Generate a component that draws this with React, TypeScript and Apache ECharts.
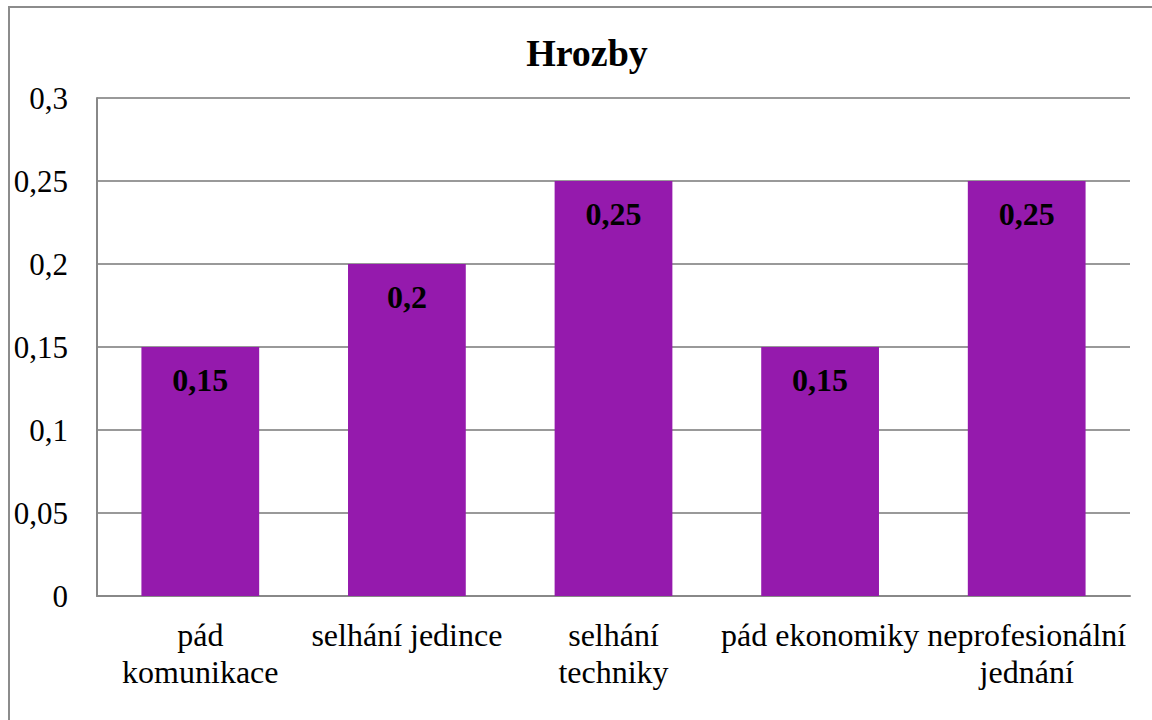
import React, { useEffect, useRef } from "react";
import * as echarts from "echarts";

const categories = ["pád\nkomunikace", "selhání jedince", "selhání\ntechniky", "pád ekonomiky", "neprofesionální\njednání"];
const values = [0.15, 0.2, 0.25, 0.15, 0.25];
const yTicks = [0, 0.05, 0.1, 0.15, 0.2, 0.25, 0.3];

const FONT = "'Liberation Serif', 'Times New Roman', serif";

export default function App() {
  const ref = useRef<HTMLDivElement>(null);
  useEffect(() => {
    if (!ref.current) return;
    const chart = echarts.init(ref.current, null, { renderer: "svg" });
    const fmt = (v: number) => String(v).replace(".", ",");
    chart.setOption({
      animation: false,
      backgroundColor: "#ffffff",
      textStyle: { fontFamily: FONT },
      title: {
        text: "Hrozby",
        left: 582,
        top: 29,
        textAlign: "center",
        textStyle: { fontFamily: FONT, fontWeight: "bold", fontSize: 38, color: "#000" },
      },
      graphic: [
        {
          type: "rect",
          shape: { x: 9, y: 7, width: 1300, height: 900 },
          style: { fill: "none", stroke: "#8c8c8c", lineWidth: 2 },
          silent: true,
        },
      ],
      grid: { left: 97, right: 22, top: 98, bottom: 124, containLabel: false },
      xAxis: {
        type: "category",
        data: categories,
        axisLine: { show: true, lineStyle: { color: "#888", width: 2 } },
        axisTick: { show: false },
        axisLabel: {
          interval: 0,
          margin: 20,
          fontSize: 32,
          lineHeight: 37,
          color: "#000",
          fontFamily: FONT,
        },
      },
      yAxis: {
        type: "value",
        min: 0,
        max: 0.3,
        interval: 0.05,
        axisLine: { show: true, lineStyle: { color: "#888", width: 2 } },
        axisTick: { show: false },
        splitLine: { show: true, lineStyle: { color: "#999", width: 2 } },
        axisLabel: {
          margin: 29,
          fontSize: 31,
          color: "#000",
          fontFamily: FONT,
          formatter: (v: number) => {
            const t = yTicks.find((x) => Math.abs(x - v) < 1e-9);
            return fmt(t !== undefined ? t : v);
          },
        },
      },
      series: [
        {
          type: "bar",
          data: values,
          barCategoryGap: "43%",
          itemStyle: { color: "#951AAD" },
          label: {
            show: true,
            position: "insideTop",
            distance: 17,
            fontSize: 32,
            fontWeight: "bold",
            color: "#000",
            fontFamily: FONT,
            formatter: (p: any) => fmt(p.value),
          },
        },
      ],
    });
    return () => chart.dispose();
  }, []);
  return <div ref={ref} style={{ position: "absolute", left: 0, top: 0, width: 1152, height: 720 }} />;
}
